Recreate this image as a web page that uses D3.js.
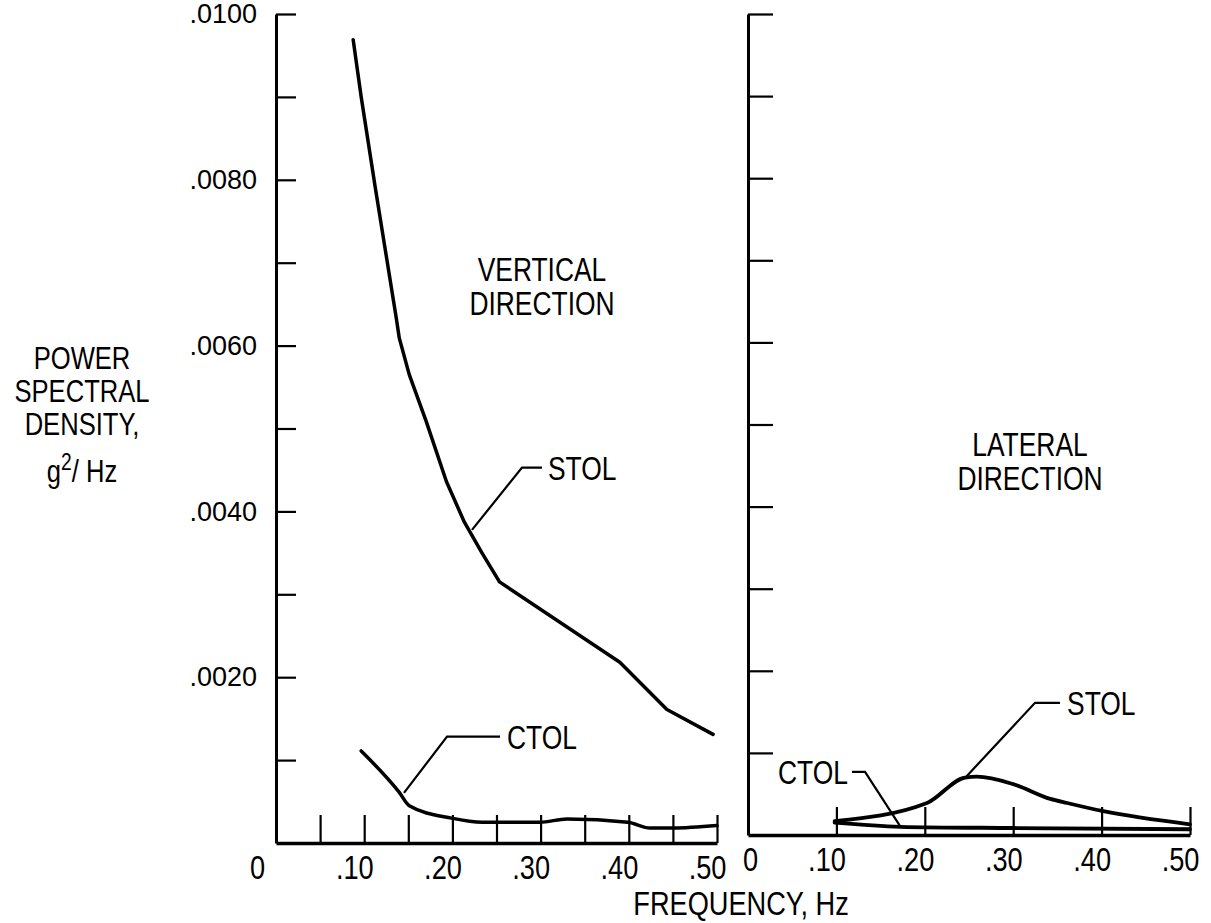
<!DOCTYPE html>
<html>
<head>
<meta charset="utf-8">
<script src="https://cdn.jsdelivr.net/npm/d3@7"></script>
<style>
  html, body { margin: 0; padding: 0; background: #fff; }
  svg { display: block; }
  text { font-family: "Liberation Sans", Arial, Helvetica, sans-serif; fill: #000; }
</style>
</head>
<body>
<svg id="chart" width="1211" height="923"></svg>
<script>
// ---------------- DATA ----------------
// Vertical direction (left panel): frequency (Hz) and PSD (g^2/Hz)
const vertStolFreq = [0.0875, 0.0966, 0.1125, 0.1364, 0.1398, 0.1511, 0.1705, 0.1932, 0.2136, 0.2330, 0.2534, 0.3898, 0.4432, 0.4955];
const vertStolPsd  = [0.00969, 0.00900, 0.00791, 0.00633, 0.00609, 0.00565, 0.00508, 0.00436, 0.00387, 0.00351, 0.00315, 0.00218, 0.00161, 0.00131];
const vertCtolFreq = [0.0966, 0.1398, 0.1511, 0.1989, 0.2340, 0.2990, 0.3300, 0.3990, 0.4240, 0.4500, 0.5000];
const vertCtolPsd  = [0.00111, 0.00061, 0.00045, 0.00030, 0.00025, 0.00025, 0.00029, 0.00025, 0.00018, 0.00018, 0.00021];
// Lateral direction (right panel)
const latStolFreq = [0.098, 0.2025, 0.2455, 0.259, 0.300, 0.342, 0.361, 0.402, 0.500];
const latStolPsd  = [0.00017, 0.00039, 0.00070, 0.00071, 0.00062, 0.00044, 0.00039, 0.00029, 0.00013];
const latCtolFreq = [0.098, 0.172, 0.300, 0.500];
const latCtolPsd  = [0.00015, 0.00010, 0.000085, 0.00007];

// Axes ticks and labels
const yTickValues = [0.001, 0.002, 0.003, 0.004, 0.005, 0.006, 0.007, 0.008, 0.009, 0.010];
const yTickLabels = {0.002: ".0020", 0.004: ".0040", 0.006: ".0060", 0.008: ".0080", 0.010: ".0100"};
const xTicksLeft  = [0, 0.05, 0.10, 0.15, 0.20, 0.25, 0.30, 0.35, 0.40, 0.45, 0.50];
const xTicksRight = [0, 0.10, 0.20, 0.30, 0.40, 0.50];
const xTickLabels = {0: "0", 0.1: ".10", 0.2: ".20", 0.3: ".30", 0.4: ".40", 0.5: ".50"};

// Text
const yTitleLines = ["POWER", "SPECTRAL", "DENSITY,"];
const xTitle = "FREQUENCY, Hz";
const panelTitleLeft = ["VERTICAL", "DIRECTION"];
const panelTitleRight = ["LATERAL", "DIRECTION"];

// Callouts (in data units: [freq, psd])
const calloutsLeft = [
  {text: "STOL", pts: [[0.2222, 0.003777], [0.2789, 0.004528], [0.3016, 0.004528]], at: [0.3084, 0.004528], anchor: "start"},
  {text: "CTOL", pts: [[0.1451, 0.000605], [0.1939, 0.001283], [0.2540, 0.001283]], at: [0.2619, 0.001283], anchor: "start"}
];
const calloutsRight = [
  {text: "STOL", pts: [[0.2455, 0.000695], [0.3247, 0.00161], [0.3529, 0.00161]], at: [0.3609, 0.00161], anchor: "start"},
  {text: "CTOL", pts: [[0.1719, 0.00011], [0.1324, 0.000768], [0.1176, 0.000768]], at: [0.1131, 0.000768], anchor: "end"}
];

// ---------------- DRAWING ----------------
const svg = d3.select("#chart");
const NARROW = 0.8;

const xL = d3.scaleLinear().domain([0, 0.5]).range([276, 717]);
const yL = d3.scaleLinear().domain([0, 0.01]).range([843, 14]);
const xR = d3.scaleLinear().domain([0, 0.5]).range([748, 1190]);
const yR = d3.scaleLinear().domain([0, 0.01]).range([835, 14]);

// narrow (condensed) text helper
function ntext(parent, x, y, str, size, anchor) {
  return parent.append("text")
    .attr("transform", `translate(${x},${y}) scale(${NARROW},1)`)
    .attr("text-anchor", anchor || "middle")
    .attr("font-size", size)
    .text(str);
}

function drawPanel(x, y, xTicks, yTickLen, showYLabels, zeroLabelDx) {
  const g = svg.append("g");
  // Y axis
  const ya = d3.axisLeft(y)
    .tickValues(yTickValues)
    .tickSizeInner(-yTickLen)
    .tickSizeOuter(0)
    .tickPadding(19)
    .tickFormat(d => showYLabels ? (yTickLabels[+d.toFixed(3)] || "") : "");
  const yg = g.append("g").attr("transform", `translate(${x(0)},0)`).call(ya);
  yg.attr("font-family", null).attr("font-size", null);
  yg.select(".domain").attr("stroke", "#000").attr("stroke-width", 3);
  yg.selectAll(".tick line").attr("stroke", "#000").attr("stroke-width", 2.2);
  yg.selectAll(".tick text").attr("font-size", 27).attr("fill", "#000");

  // X axis
  const xa = d3.axisBottom(x)
    .tickValues(xTicks)
    .tickSizeInner(-28)
    .tickSizeOuter(0)
    .tickPadding(12)
    .tickFormat(d => xTickLabels[+d.toFixed(2)] || "");
  const xg = g.append("g").attr("transform", `translate(0,${y(0)})`).call(xa);
  xg.attr("font-family", null).attr("font-size", null);
  xg.select(".domain").attr("stroke", "#000").attr("stroke-width", 3.5);
  xg.selectAll(".tick line").attr("stroke", "#000").attr("stroke-width", 2.2)
    .filter(d => d === 0).remove();
  xg.selectAll(".tick text")
    .attr("font-size", 34)
    .attr("fill", "#000")
    .attr("transform", `scale(${NARROW},1)`)
    .attr("text-anchor", d => d === 0 ? "middle" : "end")
    .attr("dx", d => (d === 0 ? zeroLabelDx : 9) / NARROW)
    .attr("dy", "0.72em");
  return g;
}

drawPanel(xL, yL, xTicksLeft, 20, true, -19);
drawPanel(xR, yR, xTicksRight, 25, false, 2);

// Lines
const line = (x, y, curve) => d3.line().x(d => x(d[0])).y(d => y(d[1])).curve(curve);
const zip = (a, b) => a.map((v, i) => [v, b[i]]);

function curvePath(data, x, y, curve, w) {
  svg.append("path").datum(data)
    .attr("d", line(x, y, curve)).attr("fill", "none").attr("stroke", "#000")
    .attr("stroke-width", w).attr("stroke-linejoin", "round").attr("stroke-linecap", "round");
}
curvePath(zip(vertStolFreq, vertStolPsd), xL, yL, d3.curveLinear, 3.5);
curvePath(zip(vertCtolFreq, vertCtolPsd), xL, yL, d3.curveMonotoneX, 3.5);
curvePath(zip(latStolFreq, latStolPsd), xR, yR, d3.curveMonotoneX, 3.8);
curvePath(zip(latCtolFreq, latCtolPsd), xR, yR, d3.curveMonotoneX, 3.8);

// Callouts
function drawCallouts(list, x, y) {
  list.forEach(c => {
    svg.append("path").datum(c.pts)
      .attr("d", d3.line().x(d => x(d[0])).y(d => y(d[1])))
      .attr("fill", "none").attr("stroke", "#000").attr("stroke-width", 2.2);
    ntext(svg, x(c.at[0]), y(c.at[1]) + 12, c.text, 33, c.anchor);
  });
}
drawCallouts(calloutsLeft, xL, yL);
drawCallouts(calloutsRight, xR, yR);

// Panel titles
function drawTitle(lines, cx, baseY) {
  lines.forEach((t, i) => ntext(svg, cx, baseY + i * 34, t, 33, "middle"));
}
drawTitle(panelTitleLeft, 542, 281);
drawTitle(panelTitleRight, 1030, 456);

// Y title
yTitleLines.forEach((t, i) => ntext(svg, 82, 369 + i * 33, t, 32, "middle"));
const unit = ntext(svg, 82, 482, "", 32, "middle");
unit.append("tspan").text("g");
unit.append("tspan").attr("dy", -12).attr("font-size", 24).text("2");
unit.append("tspan").attr("dy", 12).text("/ Hz");

// X title
ntext(svg, 741, 915, xTitle, 34, "middle");
</script>
</body>
</html>
